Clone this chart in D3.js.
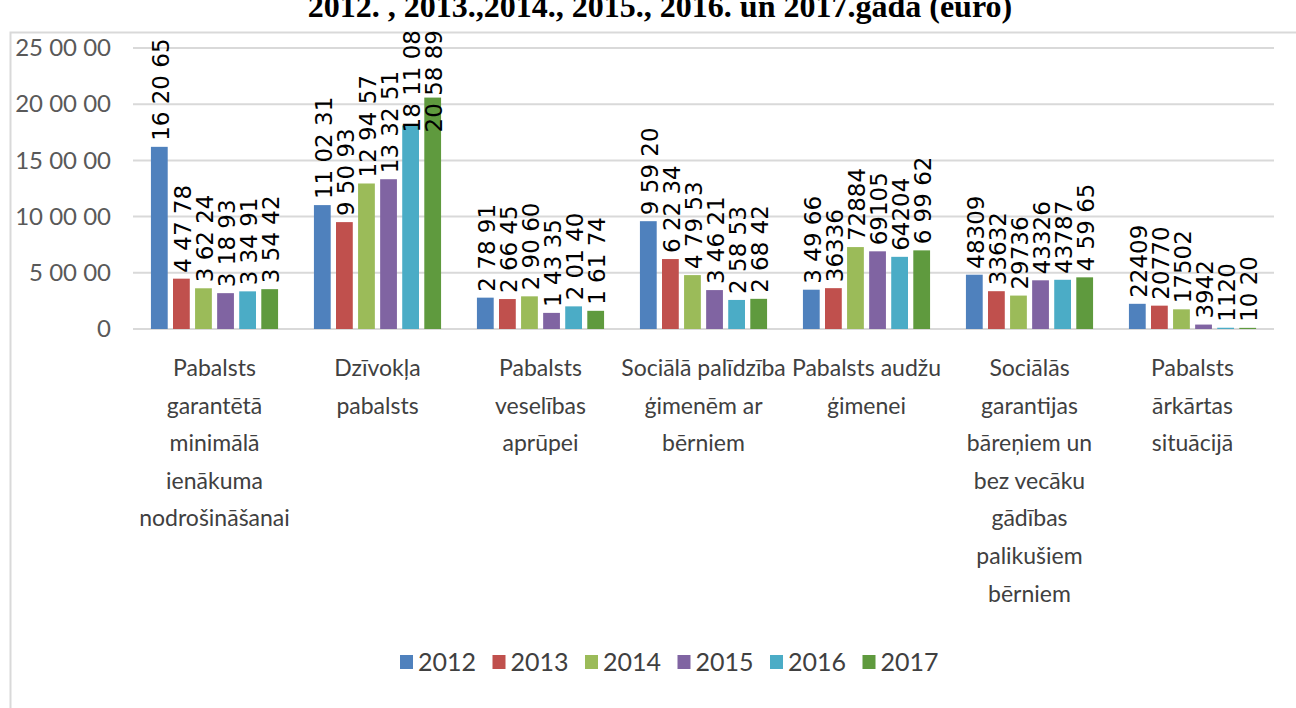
<!DOCTYPE html>
<html>
<head>
<meta charset="utf-8">
<script src="https://cdn.jsdelivr.net/npm/d3@7"></script>
<style>
  body { margin: 0; background: #fff; }
  svg { display: block; }
</style>
</head>
<body>
<svg id="chart" width="1296" height="708"></svg>
<script>
// categories, one array of label lines per group
const categories = [
    ["Pabalsts", "garantētā", "minimālā", "ienākuma", "nodrošināšanai"],
    ["Dzīvokļa", "pabalsts"],
    ["Pabalsts", "veselības", "aprūpei"],
    ["Sociālā palīdzība", "ģimenēm ar", "bērniem"],
    ["Pabalsts audžu", "ģimenei"],
    ["Sociālās", "garantijas", "bāreņiem un", "bez vecāku", "gādības", "palikušiem", "bērniem"],
    ["Pabalsts", "ārkārtas", "situācijā"]
];
const years = ["2012", "2013", "2014", "2015", "2016", "2017"];

// values per year, in category order
const v2012 = [162065, 110231, 27891, 95920, 34966, 48309, 22409];
const v2013 = [44778, 95093, 26645, 62234, 36336, 33632, 20770];
const v2014 = [36224, 129457, 29060, 47953, 72884, 29736, 17502];
const v2015 = [31893, 133251, 14335, 34621, 69105, 43326, 3942];
const v2016 = [33491, 181108, 20140, 25853, 64204, 43787, 1120];
const v2017 = [35442, 205889, 16174, 26842, 69962, 45965, 1020];

// data labels as printed on the chart
const l2012 = ["16 20 65", "11 02 31", "2 78 91", "9 59 20", "3 49 66", "48309", "22409"];
const l2013 = ["4 47 78", "9 50 93", "2 66 45", "6 22 34", "36336", "33632", "20770"];
const l2014 = ["3 62 24", "12 94 57", "2 90 60", "4 79 53", "72884", "29736", "17502"];
const l2015 = ["3 18 93", "13 32 51", "1 43 35", "3 46 21", "69105", "43326", "3942"];
const l2016 = ["3 34 91", "18 11 08", "2 01 40", "2 58 53", "64204", "43787", "1120"];
const l2017 = ["3 54 42", "20 58 89", "1 61 74", "2 68 42", "6 99 62", "4 59 65", "10 20"];

const yTicks = [0, 50000, 100000, 150000, 200000, 250000];
const yTickLabels = ["0", "5 00 00", "10 00 00", "15 00 00", "20 00 00", "25 00 00"];

const colors = ["#4f81bd", "#c0504d", "#9bbb59", "#8064a2", "#4bacc6", "#5f9a3e"];

const title = "2012. , 2013.,2014., 2015., 2016. un 2017.gadā (euro)";

const series = [v2012, v2013, v2014, v2015, v2016, v2017];
const labels = [l2012, l2013, l2014, l2015, l2016, l2017];

const narrow = "Lato, 'Open Sans', sans-serif";

const svg = d3.select("#chart");

// outer frame
svg.append("path")
    .attr("d", "M10.5,708 L10.5,32.5 L1296,32.5")
    .attr("fill", "none")
    .attr("stroke", "#d9d9d9")
    .attr("stroke-width", 2);

// title, its top is cut off in the reference
svg.append("text")
    .attr("x", 660)
    .attr("y", 17)
    .attr("text-anchor", "middle")
    .attr("font-family", "'Liberation Serif', serif")
    .attr("font-weight", "bold")
    .attr("font-size", 32)
    .text(title);

const x0 = d3.scaleBand()
    .domain(d3.range(categories.length))
    .range([133, 1274])
    .paddingInner(0.22)
    .paddingOuter(0.11);

const x1 = d3.scaleBand()
    .domain(d3.range(years.length))
    .range([0, x0.bandwidth()])
    .paddingInner(0.24);

const y = d3.scaleLinear()
    .domain([0, 250000])
    .range([329, 48]);

// gridlines
svg.append("g")
    .selectAll("line")
    .data(yTicks)
    .join("line")
    .attr("x1", 133)
    .attr("x2", 1274)
    .attr("y1", d => y(d))
    .attr("y2", d => y(d))
    .attr("stroke", "#d9d9d9")
    .attr("stroke-width", 2);

// y axis labels
const yAxis = d3.axisLeft(y)
    .tickValues(yTicks)
    .tickSize(0)
    .tickPadding(22)
    .tickFormat((d, i) => yTickLabels[i]);

svg.append("g")
    .attr("transform", "translate(133,0)")
    .call(yAxis)
    .call(g => g.select(".domain").remove())
    .call(g => g.selectAll("text")
        .attr("font-family", narrow)
        .attr("font-size", 24)
        .attr("fill", "#595959"));

// bars and labels
const groups = svg.append("g")
    .selectAll("g")
    .data(categories.map((c, i) => i))
    .join("g")
    .attr("transform", i => `translate(${x0(i)},0)`);

groups.selectAll("rect")
    .data(i => years.map((yr, s) => ({s: s, v: series[s][i]})))
    .join("rect")
    .attr("x", d => x1(d.s))
    .attr("width", x1.bandwidth())
    .attr("y", d => y(d.v))
    .attr("height", d => y(0) - y(d.v))
    .attr("fill", d => colors[d.s]);

// labels that would run past the chart top are pushed down onto the bar, like Excel does
const labelTop = 30;
groups.selectAll("text")
    .data(i => years.map((yr, s) => ({s: s, v: series[s][i], t: labels[s][i]})))
    .join("text")
    .attr("dy", "0.36em")
    .attr("font-family", "'DejaVu Sans', sans-serif")
    .attr("font-size", 23)
    .attr("fill", "#000")
    .text(d => d.t)
    .attr("transform", function(d) {
        let len = this.getComputedTextLength();
        let base = Math.max(y(d.v) - 6, labelTop + len);
        return `translate(${x1(d.s) + x1.bandwidth() / 2 + 1},${base}) rotate(-90)`;
    });

// category labels
const catText = svg.append("g")
    .selectAll("text")
    .data(categories)
    .join("text")
    .attr("x", (d, i) => x0(i) + x0.bandwidth() / 2)
    .attr("y", 376)
    .attr("text-anchor", "middle")
    .attr("font-family", narrow)
    .attr("font-size", 23)
    .attr("fill", "#404040");

catText.selectAll("tspan")
    .data(d => d)
    .join("tspan")
    .attr("x", function() { return this.parentNode.getAttribute("x"); })
    .attr("dy", (d, i) => i === 0 ? 0 : 37.6)
    .text(d => d);

// legend
const legend = svg.append("g")
    .selectAll("g")
    .data(years)
    .join("g")
    .attr("transform", (d, i) => `translate(${400 + i * 92.5},662)`);

legend.append("rect")
    .attr("x", 0)
    .attr("y", -7)
    .attr("width", 13)
    .attr("height", 14)
    .attr("fill", (d, i) => colors[i]);

legend.append("text")
    .attr("x", 18)
    .attr("dy", "0.35em")
    .attr("font-family", narrow)
    .attr("font-size", 25)
    .attr("fill", "#404040")
    .text(d => d);
</script>
</body>
</html>
